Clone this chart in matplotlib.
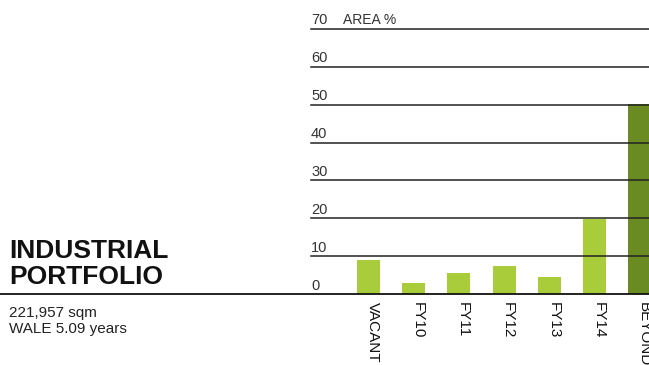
import matplotlib.pyplot as plt
import matplotlib.transforms as mtransforms
from matplotlib.lines import Line2D

# lease expiry profile, area %
categories = ["VACANT", "FY10", "FY11", "FY12", "FY13", "FY14", "BEYOND"]
area_pct = [9.0, 2.9, 5.6, 7.5, 4.6, 19.7, 50.1]
y_ticks = [0, 10, 20, 30, 40, 50, 60, 70]

light_green = "#a8cc3a"
dark_green = "#6a8a22"
colors = [light_green] * 6 + [dark_green]

W, H = 649, 365
fig = plt.figure(figsize=(W / 100, H / 100), dpi=100)

# axes placed in pixel terms: y=0 at 294px, y=70 at 29px from top
ax = fig.add_axes([311 / W, 71 / H, 338 / W, 265 / H])
ax.set_xlim(-1.272, 6.206)
ax.set_ylim(0, 70)
for s in ax.spines.values():
    s.set_visible(False)
ax.set_xticks([])
ax.set_yticks([])
ax.patch.set_alpha(0)

x = list(range(len(categories)))
ax.bar(x, area_pct, width=0.51, color=colors, zorder=1)

for v in y_ticks[1:]:
    ax.axhline(v, color="#222222", lw=1.1, zorder=2, clip_on=False)

trans = mtransforms.blended_transform_factory(ax.transAxes, ax.transData)
off = mtransforms.ScaledTranslation(0, 1.5 / 100, fig.dpi_scale_trans)
for v in y_ticks:
    ax.text(0, v, str(v), transform=trans + off, ha="left", va="bottom",
            fontsize=10.5, color="#333333", family="Liberation Sans")
ax.text(32 / 338, 70, "AREA %", transform=trans + off, ha="left", va="bottom",
        fontsize=10, color="#333333", family="Liberation Sans")

# rotated category labels under each bar
down = mtransforms.ScaledTranslation(4 / 100, -8 / 100, fig.dpi_scale_trans)
for xi, lab in zip(x, categories):
    ax.text(xi, 0, lab, transform=ax.transData + down, rotation=270,
            ha="center", va="top", fontsize=11, color="#111111",
            family="Liberation Sans")

# baseline across the whole figure
fig.add_artist(Line2D([0, 1], [71 / H, 71 / H], color="#111111", lw=1.3,
                      transform=fig.transFigure))

fig.text(9 / W, 1 - 239 / H, "INDUSTRIAL\nPORTFOLIO", ha="left", va="top",
         fontsize=19, fontweight="bold", family="Liberation Sans",
         linespacing=1.12, color="#111111")
fig.text(9 / W, 1 - 306 / H, "221,957 sqm\nWALE 5.09 years", ha="left",
         va="top", fontsize=11, family="Liberation Sans", color="#222222",
         linespacing=1.2)

fig.savefig("out.png", dpi=100)
